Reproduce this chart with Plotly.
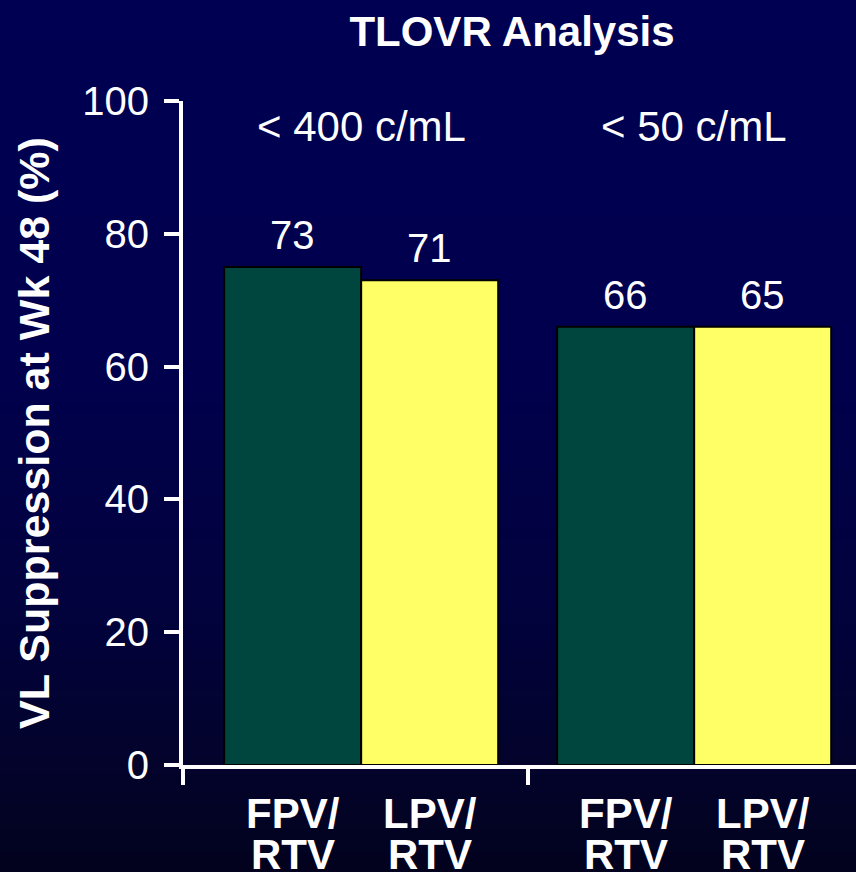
import plotly.graph_objects as go

# ---- data ----
groups = ["< 400 c/mL", "< 50 c/mL"]
series_names = ["FPV/RTV", "LPV/RTV"]
bar_heights = {
    "FPV/RTV": [75, 66],
    "LPV/RTV": [73, 66],
}
bar_labels = {
    "FPV/RTV": ["73", "66"],
    "LPV/RTV": ["71", "65"],
}
category_lines = {
    "FPV/RTV": ["FPV/", "RTV"],
    "LPV/RTV": ["LPV/", "RTV"],
}
y_ticks = [0, 20, 40, 60, 80, 100]
title_text = "TLOVR Analysis"
y_title = "VL Suppression at Wk 48 (%)"

# ---- style ----
colors = {"FPV/RTV": "#01453F", "LPV/RTV": "#FFFF66"}
FONT = "Liberation Sans, Arial, sans-serif"
W, H = 856, 872
ML, MR, MT, MB = 183, 0, 101, 107
bargap = 0.177
x_lo, x_hi = -0.535, 1.486

gx = list(range(len(groups)))
fig = go.Figure()
for name in series_names:
    fig.add_trace(go.Bar(
        x=gx, y=bar_heights[name], name=name,
        marker=dict(color=colors[name], line=dict(color="black", width=2)),
        showlegend=False, hoverinfo="skip",
    ))

half = (1 - bargap) / 4
offsets = {series_names[0]: -half, series_names[1]: half}

annotations = []
for name in series_names:
    for i, g in enumerate(gx):
        xc = g + offsets[name]
        annotations.append(dict(
            x=xc, y=bar_heights[name][i], xref="x", yref="y",
            text=bar_labels[name][i], showarrow=False,
            yanchor="bottom", yshift=8,
            font=dict(family=FONT, size=40, color="white"),
        ))
        for k, line in enumerate(category_lines[name]):
            annotations.append(dict(
                x=xc, y=-0.034 - k * 0.062, xref="x", yref="paper",
                text=line, showarrow=False, yanchor="top",
                font=dict(family=FONT, size=42, color="white", weight="bold"),
            ))
for i, g in enumerate(gx):
    annotations.append(dict(
        x=g, y=96.2, xref="x", yref="y", text=groups[i], showarrow=False,
        yanchor="middle",
        font=dict(family=FONT, size=42, color="white"),
    ))

# gradient background stripes
stops = [(0, (0, 0, 82)), (350, (0, 0, 78)), (600, (2, 2, 62)),
         (780, (3, 3, 42)), (872, (2, 2, 30))]
def col_at(py):
    for (a, ca), (b, cb) in zip(stops[:-1], stops[1:]):
        if a <= py <= b:
            t = (py - a) / (b - a)
            return tuple(round(ca[j] + (cb[j] - ca[j]) * t) for j in range(3))
    return stops[-1][1]

pw, ph = W - ML - MR, H - MT - MB
shapes = []
step = 6
for py in range(0, H, step):
    c = col_at(py + step / 2)
    shapes.append(dict(
        type="rect", xref="paper", yref="paper", layer="below",
        x0=-ML / pw - 0.05, x1=1.05,
        y0=(H - MB - (py + step + 1)) / ph, y1=(H - MB - py) / ph,
        fillcolor=f"rgb({c[0]},{c[1]},{c[2]})", line=dict(width=0),
    ))

fig.update_layout(
    width=W, height=H,
    margin=dict(l=ML, r=MR, t=MT, b=MB),
    paper_bgcolor="rgb(2,2,30)", plot_bgcolor="rgba(0,0,0,0)",
    barmode="group", bargap=bargap, bargroupgap=0,
    title=dict(text=f"<b>{title_text}</b>", x=512 / W, xanchor="center",
               y=1 - 31 / H, yanchor="middle", yref="container",
               font=dict(family=FONT, size=42, color="white")),
    xaxis=dict(range=[x_lo, x_hi], showgrid=False, zeroline=False,
               showline=True, linecolor="white", linewidth=4,
               ticks="outside", tickvals=[x_lo, 0.5], ticklen=16,
               tickwidth=4, tickcolor="white", showticklabels=False),
    yaxis=dict(range=[0, 100], showgrid=False, zeroline=False,
               showline=True, linecolor="white", linewidth=4,
               ticks="outside", tickvals=y_ticks, ticklen=15, tickwidth=4,
               tickcolor="white", ticklabelstandoff=7,
               tickfont=dict(family=FONT, size=40, color="white"),
               title=dict(text=f"<b>{y_title}</b>", standoff=20,
                          font=dict(family=FONT, size=43, color="white"))),
    annotations=annotations, shapes=shapes,
)
fig.write_html("out.html")
